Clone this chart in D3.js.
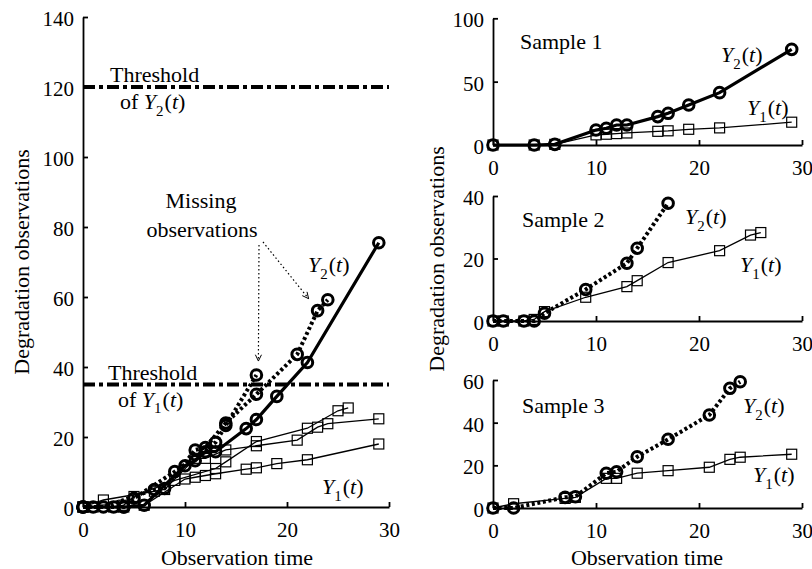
<!DOCTYPE html>
<html><head><meta charset="utf-8">
<script src="https://cdn.jsdelivr.net/npm/d3@7/dist/d3.min.js"></script>
<style>
body{margin:0;background:#fff}
svg text{font-family:"Liberation Serif","Times New Roman",serif;fill:#000}
</style>
</head><body>
<svg id="c" width="812" height="569"></svg>
<script>
// ---------- data ----------
const sample1Time = [0,4,6,10,11,12,13,16,17,19,22,29];
const sample1Y1   = [0,0,0.5,8,8.5,9,9.5,10.8,11.2,12.4,13.5,18];
const sample1Y2   = [0,0,0.5,11.8,13.2,15.8,15.8,22.4,25,31.6,41.3,75.5];

const sample2Time = [0,1,3,4,5,9,13,14,17,22,25,26];
const sample2Y1   = [0,0,0,0.5,3,7.6,11,12.9,18.7,22.5,27.5,28.3];
const sample2Y2   = [0,0,0,0,2.5,10.1,18.5,23.3,37.7];   // observed up to t=17

const sample3Time = [0,2,7,8,11,12,14,17,21,23,24,29];
const sample3Y1   = [0,2,4.5,5,13.9,13.9,16.3,17.5,19.1,22.8,23.8,25.2];
const sample3Y2   = [0,0,5,5.3,16.3,17,24,32.2,43.6,56.1,59.2]; // observed up to t=24

const thresholdY1 = 35;
const thresholdY2 = 120;

const xTicks = [0,10,20,30];
const leftYTicks = [0,20,40,60,80,100,120,140];
const s1YTicks = [0,50,100];
const s2YTicks = [0,20,40];
const s3YTicks = [0,20,40,60];

// ---------- helpers ----------
const svg = d3.select("#c");
const zip = (t, v) => v.map((d,i)=>[t[i], d]);

function axes(g, x, y, xt, yt){
  const ax = g.append("g").attr("transform",`translate(0,${y(0)})`)
    .call(d3.axisBottom(x).tickValues(xt).tickSize(-5).tickSizeOuter(0).tickPadding(15));
  const ay = g.append("g").attr("transform",`translate(${x(0)},0)`)
    .call(d3.axisLeft(y).tickValues(yt).tickSize(-5).tickSizeOuter(0).tickPadding(9));
  [ax,ay].forEach(a=>{
    a.attr("font-family",null).attr("font-size",null);
    a.selectAll("path,line").attr("stroke","#000").attr("stroke-width",1.8);
    a.selectAll("text").style("font-size","21px");
  });
  ay.selectAll("text").attr("dy","0.4em");
}

function series(g, x, y, data, kind, style){
  const line = d3.line().x(d=>x(d[0])).y(d=>y(d[1]));
  const p = g.append("path").datum(data).attr("d", line).attr("fill","none").attr("stroke","#000");
  if(style==="thin") p.attr("stroke-width",1.3);
  else if(style==="solid") p.attr("stroke-width",3.2);
  else p.attr("stroke-width",4).attr("stroke-dasharray","3,2.6");
  if(kind==="circle"){
    g.selectAll(null).data(data).enter().append("circle")
      .attr("cx",d=>x(d[0])).attr("cy",d=>y(d[1])).attr("r",5.3)
      .attr("fill","none").attr("stroke","#000").attr("stroke-width",3);
  } else {
    g.selectAll(null).data(data).enter().append("rect")
      .attr("x",d=>x(d[0])-5).attr("y",d=>y(d[1])-5).attr("width",10).attr("height",10)
      .attr("fill","none").attr("stroke","#000").attr("stroke-width",1.2);
  }
}

function yLabel(g, x, y, sub, size){
  size = size || 22;
  const t = g.append("text").attr("x",x).attr("y",y).style("font-size",size+"px");
  t.append("tspan").text("Y").style("font-style","italic");
  t.append("tspan").text(sub).style("font-size",(size*0.68)+"px").attr("dy",size*0.3);
  t.append("tspan").text("(").attr("dy",-size*0.3).attr("dx",1);
  t.append("tspan").text("t").style("font-style","italic");
  t.append("tspan").text(")");
}

function plain(x, y, s, opts){
  const t = svg.append("text").attr("x",x).attr("y",y).text(s).style("font-size",(opts&&opts.size||22)+"px");
  if(opts&&opts.anchor) t.attr("text-anchor",opts.anchor);
  if(opts&&opts.rotate) t.attr("transform",`rotate(-90,${x},${y})`);
  return t;
}

// ---------- left panel ----------
const L = svg.append("g");
const lx = d3.scaleLinear().domain([0,30]).range([83,389]);
const ly = d3.scaleLinear().domain([0,140]).range([507,17]);
axes(L, lx, ly, xTicks, leftYTicks);

// thresholds
[thresholdY2, thresholdY1].forEach(v=>{
  L.append("line").attr("x1",lx(0)).attr("x2",lx(30)).attr("y1",ly(v)).attr("y2",ly(v))
   .attr("stroke","#000").attr("stroke-width",4).attr("stroke-dasharray","12,4,4,4");
});

series(L, lx, ly, zip(sample1Time, sample1Y1), "square", "thin");
series(L, lx, ly, zip(sample2Time, sample2Y1), "square", "thin");
series(L, lx, ly, zip(sample3Time, sample3Y1), "square", "thin");
series(L, lx, ly, zip(sample2Time, sample2Y2), "circle", "dot");
series(L, lx, ly, zip(sample3Time, sample3Y2), "circle", "dot");
series(L, lx, ly, zip(sample1Time, sample1Y2), "circle", "solid");

// threshold labels
plain(110, ly(thresholdY2)-5, "Threshold");
{ const t = L.append("text").attr("x",120).attr("y",ly(thresholdY2)+22).style("font-size","22px");
  t.append("tspan").text("of ");
  t.append("tspan").text("Y").style("font-style","italic");
  t.append("tspan").text("2").style("font-size","15px").attr("dy",6.6);
  t.append("tspan").text("(").attr("dy",-6.6).attr("dx",1);
  t.append("tspan").text("t").style("font-style","italic");
  t.append("tspan").text(")"); }
plain(108, ly(thresholdY1)-5, "Threshold");
{ const t = L.append("text").attr("x",118).attr("y",ly(thresholdY1)+22).style("font-size","22px");
  t.append("tspan").text("of ");
  t.append("tspan").text("Y").style("font-style","italic");
  t.append("tspan").text("1").style("font-style","normal").style("font-size","15px").attr("dy",6.6);
  t.append("tspan").text("(").attr("dy",-6.6).attr("dx",1);
  t.append("tspan").text("t").style("font-style","italic");
  t.append("tspan").text(")"); }

yLabel(L, 308, 272, "2");
yLabel(L, 322, 494, "1");

// missing observations annotation
plain(201, 208, "Missing", {anchor:"middle"});
plain(202, 237, "observations", {anchor:"middle"});
function arrow(x1,y1,x2,y2){
  L.append("line").attr("x1",x1).attr("y1",y1).attr("x2",x2).attr("y2",y2)
    .attr("stroke","#000").attr("stroke-width",1.2).attr("stroke-dasharray","1.5,2.5");
  const a = Math.atan2(y2-y1,x2-x1), len=7, w=0.45;
  [a+Math.PI-w, a+Math.PI+w].forEach(b=>{
    L.append("line").attr("x1",x2).attr("y1",y2).attr("x2",x2+len*Math.cos(b)).attr("y2",y2+len*Math.sin(b))
      .attr("stroke","#000").attr("stroke-width",1);
  });
}
arrow(259,245, lx(17)+2, ly(sample2Y2[8])-14);
arrow(263,242, lx(23)-9, ly(sample3Y2[9])-12);

plain(29, 262, "Degradation observations", {anchor:"middle", rotate:true});
plain(237, 565, "Observation time", {anchor:"middle"});

// ---------- right panels ----------
const rx = d3.scaleLinear().domain([0,30]).range([493,802]);
const y1s = d3.scaleLinear().domain([0,100]).range([145,18.3]);
const y2s = d3.scaleLinear().domain([0,40]).range([321,196]);
const y3s = d3.scaleLinear().domain([0,60]).range([508,380]);

const R1 = svg.append("g"), R2 = svg.append("g"), R3 = svg.append("g");
axes(R1, rx, y1s, xTicks, s1YTicks);
axes(R2, rx, y2s, xTicks, s2YTicks);
axes(R3, rx, y3s, xTicks, s3YTicks);

series(R1, rx, y1s, zip(sample1Time, sample1Y1), "square", "thin");
series(R1, rx, y1s, zip(sample1Time, sample1Y2), "circle", "solid");
series(R2, rx, y2s, zip(sample2Time, sample2Y1), "square", "thin");
series(R2, rx, y2s, zip(sample2Time, sample2Y2), "circle", "dot");
series(R3, rx, y3s, zip(sample3Time, sample3Y1), "square", "thin");
series(R3, rx, y3s, zip(sample3Time, sample3Y2), "circle", "dot");

plain(520, 49, "Sample 1");
plain(522, 227, "Sample 2");
plain(522, 413, "Sample 3");
yLabel(R1, 721, 62, "2");
yLabel(R1, 747, 115, "1");
yLabel(R2, 685, 224, "2");
yLabel(R2, 740, 272, "1");
yLabel(R3, 743, 413, "2");
yLabel(R3, 753, 482, "1");

plain(444, 259, "Degradation observations", {anchor:"middle", rotate:true});
plain(647, 565, "Observation time", {anchor:"middle"});
</script>
</body></html>
